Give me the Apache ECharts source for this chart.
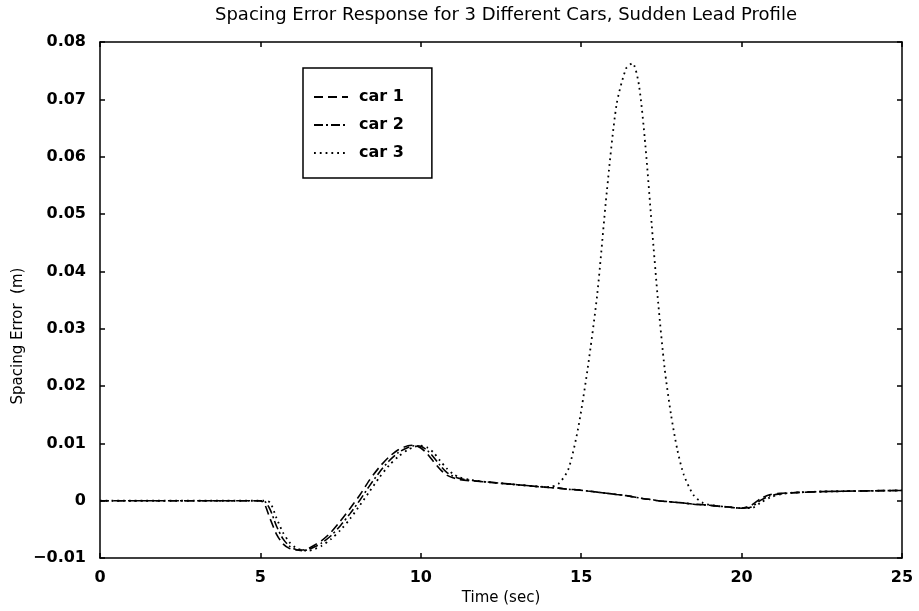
<!DOCTYPE html>
<html>
<head>
<meta charset="utf-8">
<script src="https://cdn.jsdelivr.net/npm/echarts@6/dist/echarts.min.js"></script>
<style>
  html, body { margin: 0; padding: 0; background: #fff; }
  #chart { width: 919px; height: 611px; }
</style>
</head>
<body>
<div id="chart"></div>
<script>
// spacing error
const timeSec = [0, 4.9, 5.1, 5.3, 5.5, 5.7, 5.9, 6.1, 6.3, 6.5, 6.7, 6.9, 7.2, 7.5, 7.8, 8.1, 8.4, 8.7, 9.0, 9.3, 9.6, 9.8, 10.0, 10.2, 10.4, 10.6, 10.8, 11.0, 11.2, 11.5, 12, 13, 14, 14.3, 14.6, 14.9, 15.2, 15.5, 15.8, 16.1, 16.4, 16.6, 16.8, 17.0, 17.2, 17.4, 17.6, 17.8, 18.0, 18.2, 18.5, 18.8, 19.2, 19.6, 20.0, 20.3, 20.6, 20.9, 21.2, 21.6, 22.5, 25]

const car1 = [0, 0, -0.0003, -0.0031, -0.0058, -0.0075, -0.0083, -0.0086, -0.0086, -0.0083, -0.0077, -0.0070, -0.0055, -0.0035, -0.0013, 0.0010, 0.0036, 0.0058, 0.0076, 0.0089, 0.0096, 0.0097, 0.0092, 0.0082, 0.0068, 0.0055, 0.0045, 0.0040, 0.0037, 0.0035, 0.0033, 0.0028, 0.0023, 0.0022, 0.0020, 0.0019, 0.0017, 0.0015, 0.0013, 0.0011, 0.0009, 0.0007, 0.0005, 0.0003, 0.0002, 0.0000, -0.0001, -0.0002, -0.0003, -0.0004, -0.0006, -0.0007, -0.0009, -0.0011, -0.0013, -0.0008, 0.0004, 0.0011, 0.0013, 0.0014, 0.0016, 0.0018]

const car2 = [0, 0, 0, -0.0015, -0.0044, -0.0066, -0.0079, -0.0085, -0.0087, -0.0085, -0.0080, -0.0074, -0.0061, -0.0043, -0.0022, 0.0001, 0.0026, 0.0049, 0.0069, 0.0084, 0.0093, 0.0096, 0.0095, 0.0088, 0.0076, 0.0062, 0.0050, 0.0043, 0.0039, 0.0036, 0.0033, 0.0028, 0.0023, 0.0022, 0.0020, 0.0019, 0.0017, 0.0015, 0.0013, 0.0011, 0.0009, 0.0007, 0.0005, 0.0003, 0.0002, 0.0000, -0.0001, -0.0002, -0.0003, -0.0004, -0.0006, -0.0007, -0.0009, -0.0011, -0.0013, -0.0011, 0.0001, 0.0009, 0.0012, 0.0014, 0.0016, 0.0018]

const car3 = [0, 0, 0, -0.0003, -0.0030, -0.0055, -0.0072, -0.0082, -0.0086, -0.0087, -0.0084, -0.0079, -0.0067, -0.0051, -0.0031, -0.0008, 0.0016, 0.0040, 0.0061, 0.0077, 0.0089, 0.0094, 0.0096, 0.0093, 0.0084, 0.0070, 0.0057, 0.0047, 0.0041, 0.0037, 0.0033, 0.0028, 0.0024, 0.0030, 0.0055, 0.0125, 0.0230, 0.0360, 0.0540, 0.0690, 0.0754, 0.0763, 0.0725, 0.0620, 0.0480, 0.0345, 0.0231, 0.0150, 0.0088, 0.0045, 0.0010, -0.0004, -0.0009, -0.0011, -0.0013, -0.0013, -0.0003, 0.0006, 0.0011, 0.0014, 0.0016, 0.0018]

const xTicks = [0, 5, 10, 15, 20, 25]
const yTicks = [-0.01, 0, 0.01, 0.02, 0.03, 0.04, 0.05, 0.06, 0.07, 0.08]

const chart = echarts.init(document.getElementById('chart'))

const pairs = (vals) => timeSec.map((t, i) => [t, vals[i]])
const tickFont = { fontFamily: 'DejaVu Sans', fontWeight: 'bold', fontSize: 16, color: '#000' }
const boxLine = { show: true, onZero: false, lineStyle: { color: '#000', width: 1.5 } }
const inTick = { show: true, inside: true, length: 5, lineStyle: { color: '#000', width: 1.5 } }
const noMarker = { color: 'rgba(0,0,0,0)', borderWidth: 0 }

const option = {
  animation: false,
  backgroundColor: '#fff',
  title: {
    text: 'Spacing Error Response for 3 Different Cars, Sudden Lead Profile',
    left: 501,
    textAlign: 'center',
    top: 1,
    textStyle: { fontFamily: 'DejaVu Sans', fontWeight: 'normal', fontSize: 18, color: '#000' }
  },
  grid: { left: 100, right: 17, top: 42, bottom: 49 },
  graphic: [
    {
      type: 'text',
      x: 18,
      y: 336,
      rotation: Math.PI / 2,
      style: {
        text: 'Spacing Error  (m)',
        font: '15px "DejaVu Sans"',
        fill: '#000',
        textAlign: 'center',
        textVerticalAlign: 'middle'
      }
    }
  ],
  legend: {
    left: 303,
    top: 68,
    orient: 'vertical',
    padding: [21, 28, 17, 10],
    itemWidth: 34,
    itemHeight: 14,
    itemGap: 12,
    borderColor: '#000',
    borderWidth: 1.5,
    textStyle: { fontFamily: 'DejaVu Sans', fontWeight: 'bold', fontSize: 16, color: '#000', padding: [0, 0, 0, 6] },
    data: [
      { name: 'car 1', itemStyle: noMarker },
      { name: 'car 2', itemStyle: noMarker },
      { name: 'car 3', itemStyle: noMarker }
    ]
  },
  xAxis: [
    {
      type: 'value',
      min: 0,
      max: 25,
      interval: 5,
      name: 'Time (sec)',
      nameLocation: 'middle',
      nameGap: 31,
      nameTextStyle: { fontFamily: 'DejaVu Sans', fontSize: 15, color: '#000' },
      axisLine: boxLine,
      axisTick: inTick,
      axisLabel: Object.assign({ margin: 12, formatter: (v) => xTicks.includes(v) ? String(v) : '' }, tickFont),
      splitLine: { show: false }
    },
    {
      type: 'value',
      position: 'top',
      min: 0,
      max: 25,
      interval: 5,
      axisLine: boxLine,
      axisTick: inTick,
      axisLabel: { show: false },
      splitLine: { show: false }
    }
  ],
  yAxis: [
    {
      type: 'value',
      min: -0.01,
      max: 0.08,
      interval: 0.01,
      axisLine: boxLine,
      axisTick: inTick,
      axisLabel: Object.assign({
        margin: 14,
        formatter: (v) => {
          const hit = yTicks.find(t => Math.abs(t - v) < 1e-9)
          if (hit === undefined) return ''
          return hit === 0 ? '0' : (hit < 0 ? '\u22120.01' : hit.toFixed(2))
        }
      }, tickFont),
      splitLine: { show: false }
    },
    {
      type: 'value',
      position: 'right',
      min: -0.01,
      max: 0.08,
      interval: 0.01,
      axisLine: boxLine,
      axisTick: inTick,
      axisLabel: { show: false },
      splitLine: { show: false }
    }
  ],
  series: [
    {
      name: 'car 1',
      type: 'line',
      data: pairs(car1),
      symbol: 'none',
      smooth: 0.25,
      color: '#000',
      lineStyle: { color: '#000', width: 1.6, type: [9, 5] }
    },
    {
      name: 'car 2',
      type: 'line',
      data: pairs(car2),
      symbol: 'none',
      smooth: 0.25,
      color: '#000',
      lineStyle: { color: '#000', width: 1.6, type: [9, 3, 2, 3] }
    },
    {
      name: 'car 3',
      type: 'line',
      data: pairs(car3),
      symbol: 'none',
      smooth: 0.25,
      color: '#000',
      lineStyle: { color: '#000', width: 1.8, type: [1.8, 4] }
    }
  ]
}

chart.setOption(option)
</script>
</body>
</html>
